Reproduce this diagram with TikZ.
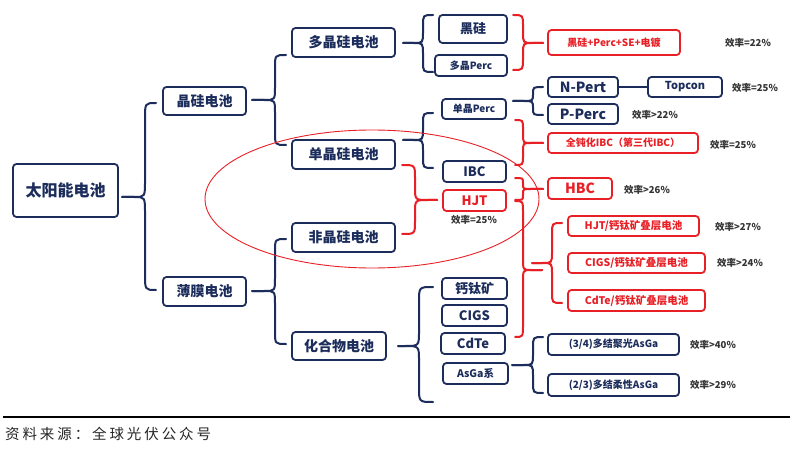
\documentclass[tikz,border=0pt]{standalone}
\usepackage{fontspec}
\setmainfont{Noto Sans CJK SC}
\definecolor{navy}{RGB}{28,45,92}
\definecolor{myred}{RGB}{232,32,38}
\newcommand{\cbrace}[8][br]{%
  \draw[#1] (#2,#5) .. controls (#3,#5) .. (#3,{#5+#8}) -- (#3,{#6-#8}) .. controls (#3,#6) .. ({2*#3-#2},#6) -- (#4,#6);
  \draw[#1] (#4,#6) -- ({2*#3-#2},#6) .. controls (#3,#6) .. (#3,{#6+#8}) -- (#3,{#7-#8}) .. controls (#3,#7) .. (#2,#7);
}
\tikzset{
  fs/.style={font=\bfseries\fontsize{#1}{#1}\selectfont},
  sz/.style 2 args={minimum width=#1pt, minimum height=#2pt},
  bx/.style={draw=navy, line width=1.8pt, rounded corners=3.5pt, text=navy, inner sep=0pt, align=center},
  rbx/.style={bx, draw=myred, text=myred},
  eff/.style={fs=9.5, text=black!80, inner sep=0pt},
  br/.style={draw=navy, line width=2pt, line cap=round},
  rbr/.style={draw=myred, line width=2pt, line cap=round}
}
\begin{document}
\begin{tikzpicture}[x=1pt,y=-1pt]
\useasboundingbox (0,0) rectangle (802,454);
\fill[white] (0,0) rectangle (802,454);
% level nodes
\node[bx, sz={105}{53}, fs=16] (root) at (65.5,190.5) {太阳能电池};
\node[bx, sz={83}{28}, fs=14] (jg) at (204.5,101) {晶硅电池};
\node[bx, sz={83}{29}, fs=14] (bm) at (204.5,291.5) {薄膜电池};
\node[bx, sz={103}{29}, fs=14] (djg) at (343.5,42.5) {多晶硅电池};
\node[bx, sz={103}{29}, fs=14] (dan) at (343.5,154.5) {单晶硅电池};
\node[bx, sz={103}{29}, fs=14] (fei) at (343.5,237.5) {非晶硅电池};
\node[bx, sz={94}{28}, fs=14] (hhw) at (339,346) {化合物电池};
\node[bx, sz={68}{28}, fs=13] (hg) at (473,29) {黑硅};
\node[bx, sz={72}{21}, fs=10] (dperc) at (471,65.5) {多晶Perc};
\node[bx, sz={64}{20}, fs=10] (sperc) at (474,109) {单晶Perc};
\node[bx, sz={63}{21}, fs=13] (ibc) at (474.5,171.5) {IBC};
\node[rbx, sz={63}{21}, fs=13] (hjt) at (474.5,200.5) {HJT};
\node[bx, sz={65}{21}, fs=13] (gtk) at (474.5,288.5) {钙钛矿};
\node[bx, sz={65}{21}, fs=13] (cigs) at (474.5,315.5) {CIGS};
\node[bx, sz={64}{21}, fs=13] (cdte) at (473,343.5) {CdTe};
\node[bx, sz={65}{21}, fs=10.5] (asga) at (475.5,373.5) {AsGa系};
\node[bx, sz={70}{20}, fs=14] (npert) at (583,87) {N-Pert};
\node[bx, sz={70}{20}, fs=14] (pperc) at (583,114) {P-Perc};
\node[bx, sz={74}{20}, fs=11] (topcon) at (685,87) {Topcon};
\node[rbx, sz={132}{25}, fs=10] (r1) at (614,42.5) {黑硅+Perc+SE+电镀};
\node[rbx, sz={150}{20}, fs=10] (r2) at (623,143) {全钝化IBC（第三代IBC）};
\node[rbx, sz={64}{21}, fs=14] (hbc) at (580,188.5) {HBC};
\node[rbx, sz={131}{20}, fs=10.5] (r3) at (633.5,226) {HJT/钙钛矿叠层电池};
\node[rbx, sz={137}{20}, fs=10.5] (r4) at (636.5,263) {CIGS/钙钛矿叠层电池};
\node[rbx, sz={137}{21}, fs=10.5] (r5) at (636.5,300.5) {CdTe/钙钛矿叠层电池};
\node[bx, sz={131}{21}, fs=10] (a1) at (613.5,344.5) {(3/4)多结聚光AsGa};
\node[bx, sz={131}{22}, fs=10] (a2) at (613.5,385) {(2/3)多结柔性AsGa};
% efficiency labels
\node[eff] (e1) at (748,43) {效率=22\%};
\node[eff] (e2) at (755,88) {效率=25\%};
\node[eff] (e3) at (655,115) {效率>22\%};
\node[eff] (e4) at (733,145) {效率=25\%};
\node[eff] (e5) at (647,190) {效率>26\%};
\node[eff] (e6) at (474,220) {效率=25\%};
\node[eff] (e7) at (738,227) {效率>27\%};
\node[eff] (e8) at (740,263) {效率>24\%};
\node[eff] (e9) at (713,345) {效率>40\%};
\node[eff] (e10) at (713,385) {效率>29\%};
% connectors
\draw[br] (npert) -- (topcon);
\cbrace{156}{145}{122}{103}{197}{290}{16}
\cbrace{286}{275}{252}{55}{100}{145}{13}
\cbrace{286}{275}{252}{239}{291}{344}{13}
\cbrace{433}{423}{403}{15}{43}{72}{11}
\cbrace{433}{423}{403}{113}{140}{168}{11}
\cbrace{433}{419}{398}{287}{346}{402}{15}
\cbrace{543}{533}{513}{87}{101}{115}{7}
\cbrace{543}{533}{512}{337}{365}{393}{11}
\cbrace[rbr]{513}{523}{543}{15}{43}{70}{11}
\cbrace[rbr]{515}{523}{543}{120}{143}{165}{9}
\cbrace[rbr]{515}{523}{543}{178}{189}{200}{5}
\cbrace[rbr]{402}{415}{437}{165}{200}{234}{13}
\cbrace[rbr]{515}{523}{542}{201}{270}{337}{12}
\cbrace[rbr]{562}{552}{532}{223}{263}{303}{11}
% highlight ellipse
\draw[myred, line width=0.9pt] (372,199) ellipse [x radius=167, y radius=69];
% footer
\coordinate (fl) at (3,417);
\coordinate (fr) at (790,417);
\draw[black, line width=1.4pt] (fl) -- (fr);
\node[anchor=west, inner sep=0pt, text=black!85, font=\fontsize{14.5}{15}\selectfont\addfontfeature{LetterSpace=20}] (src) at (5,434) {资料来源：全球光伏公众号};
\end{tikzpicture}
\end{document}
